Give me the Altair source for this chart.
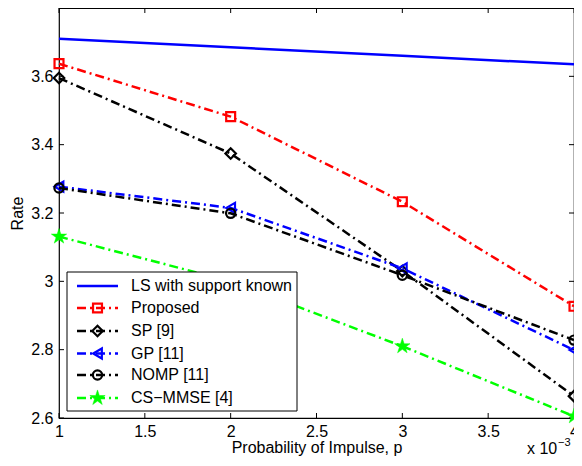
import altair as alt
import pandas as pd

# ---- data ----
x_vals = [1, 2, 3, 4]
ls_known = [3.71, 3.685, 3.66, 3.635]
proposed = [3.637, 3.482, 3.233, 2.927]
sp9 = [3.595, 3.374, 3.03, 2.664]
gp11 = [3.277, 3.215, 3.038, 2.799]
nomp11 = [3.273, 3.199, 3.018, 2.828]
cs_mmse4 = [3.131, 3.0, 2.81, 2.605]

names = ["LS with support known", "Proposed", "SP [9]", "GP [11]", "NOMP [11]", "CS\u2212MMSE [4]"]
x_ticks = [1, 1.5, 2, 2.5, 3, 3.5, 4]
y_ticks = [2.6, 2.8, 3.0, 3.2, 3.4, 3.6]

W, H = 515, 410
FONT = "Liberation Sans"
FS = 16

STAR = ("M0,-1L0.2245,-0.309L0.951,-0.309L0.363,0.118L0.588,0.809L0,0.382"
        "L-0.588,0.809L-0.363,0.118L-0.951,-0.309L-0.2245,-0.309Z")
DD = [9, 4, 2, 4]
LW = 2.5

styles = [
    # values, color, dash, shape, filled, size
    (ls_known, "#0000ff", None, None, False, 0),
    (proposed, "#ff0000", DD, "square", False, 80),
    (sp9, "#000000", DD, "diamond", False, 110),
    (gp11, "#0000ff", DD, "triangle-left", False, 100),
    (nomp11, "#000000", DD, "circle", False, 85),
    (cs_mmse4, "#00ff00", DD, STAR, True, 260),
]

xs = alt.Scale(domain=[1, 4], nice=False, zero=False)
ys = alt.Scale(domain=[2.6, 3.8], nice=False, zero=False)
xaxis = alt.Axis(values=x_ticks, format="~g", title="Probability of Impulse, p",
                 tickSize=0, domain=False, grid=False, labelPadding=5,
                 labelFontSize=FS, titleFontSize=FS, titleFontWeight="normal",
                 labelColor="black", titleColor="black", labelOverlap=False,
                 labelFlush=False, titleY=29, titleBaseline="middle")
yaxis = alt.Axis(values=y_ticks, format="~g", title="Rate",
                 tickSize=0, domain=False, grid=False, labelPadding=6,
                 labelFontSize=FS, titleFontSize=FS, titleFontWeight="normal",
                 labelColor="black", titleColor="black", labelOverlap=False,
                 labelFlush=False, titleX=-42, titleY=H / 2, titleBaseline="middle",
                 titleAlign="center")
X = alt.X("x:Q", scale=xs, axis=xaxis)
Y = alt.Y("y:Q", scale=ys, axis=yaxis)

layers = []

# inward ticks on all four sides
xt = pd.DataFrame({"x": x_ticks})
yt = pd.DataFrame({"y": y_ticks})
layers.append(alt.Chart(xt).mark_rule(color="black", strokeWidth=1).encode(
    x=X, y=alt.value(H), y2=alt.value(H - 5)))
layers.append(alt.Chart(xt).mark_rule(color="black", strokeWidth=1).encode(
    x=X, y=alt.value(0), y2=alt.value(5)))
layers.append(alt.Chart(yt).mark_rule(color="black", strokeWidth=1).encode(
    y=Y, x=alt.value(0), x2=alt.value(5)))
layers.append(alt.Chart(yt).mark_rule(color="black", strokeWidth=1).encode(
    y=Y, x=alt.value(W), x2=alt.value(W - 5)))


def point_props(color, shape, filled, size):
    pk = dict(shape=shape, size=size, strokeWidth=2.2, opacity=1)
    if filled:
        pk.update(filled=True, fill=color, stroke=color, strokeWidth=0.5)
    else:
        pk.update(filled=False, stroke=color)
    return pk


# series lines and markers
for name, (vals, color, dash, shape, filled, size) in zip(names, styles):
    df = pd.DataFrame({"x": x_vals, "y": vals})
    lk = dict(color=color, strokeWidth=LW)
    if dash:
        lk["strokeDash"] = dash
    layers.append(alt.Chart(df).mark_line(**lk).encode(x=X, y=Y))
    if shape:
        layers.append(alt.Chart(df).mark_point(**point_props(color, shape, filled, size)).encode(x=X, y=Y))

# legend box
one = pd.DataFrame({"a": [0]})
layers.append(alt.Chart(one).mark_rect(fill="white", stroke="black", strokeWidth=1).encode(
    x=alt.value(8), x2=alt.value(238), y=alt.value(264), y2=alt.value(403)))
row_y = [278, 300, 323, 345.5, 367, 390]
for name, (vals, color, dash, shape, filled, size), ry in zip(names, styles, row_y):
    lk = dict(color=color, strokeWidth=LW)
    if dash:
        lk["strokeDash"] = dash
    layers.append(alt.Chart(one).mark_rule(**lk).encode(
        x=alt.value(18), x2=alt.value(59), y=alt.value(ry)))
    if shape:
        layers.append(alt.Chart(one).mark_point(**point_props(color, shape, filled, size)).encode(
            x=alt.value(38.5), y=alt.value(ry)))
    layers.append(alt.Chart(pd.DataFrame({"t": [name]})).mark_text(
        align="left", baseline="middle", fontSize=FS, font=FONT, color="black").encode(
        x=alt.value(72), y=alt.value(ry), text="t:N"))

# exponent label
layers.append(alt.Chart(pd.DataFrame({"t": ["x 10"]})).mark_text(
    align="left", baseline="middle", fontSize=FS, font=FONT, color="black").encode(
    x=alt.value(468), y=alt.value(441), text="t:N"))
layers.append(alt.Chart(pd.DataFrame({"t": ["\u22123"]})).mark_text(
    align="left", baseline="middle", fontSize=11, font=FONT, color="black").encode(
    x=alt.value(499), y=alt.value(435), text="t:N"))

chart = alt.layer(*layers).properties(
    width=W, height=H,
    padding={"left": 51, "top": 0, "right": 0, "bottom": 40},
    autosize=alt.AutoSizeParams(type="none"),
).configure(font=FONT).configure_view(stroke="black", strokeWidth=1.2)

chart.save("out.html", embed_options={"renderer": "svg", "actions": False})
